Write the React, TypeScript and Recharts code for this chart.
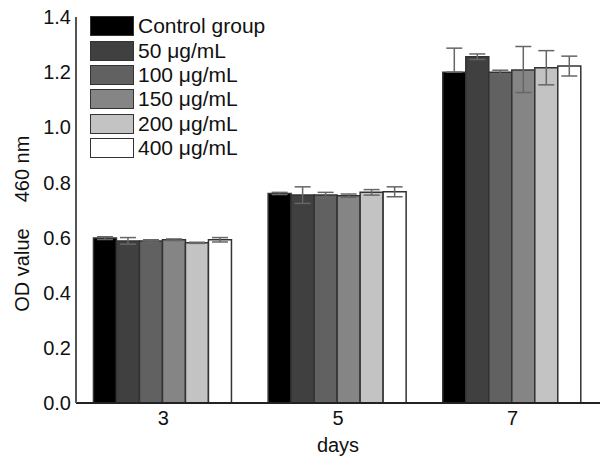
import { BarChart, Bar, XAxis, YAxis, ErrorBar } from "recharts";

const days = ["3", "5", "7"];
const groups = ["Control group", "50 μg/mL", "100 μg/mL", "150 μg/mL", "200 μg/mL", "400 μg/mL"];
const fills = ["#000000", "#404040", "#616161", "#858585", "#c3c3c3", "#ffffff"];
const yTicks = [0, 0.2, 0.4, 0.6, 0.8, 1.0, 1.2, 1.4];

// mean OD per group, one entry per day
const control = [0.598, 0.76, 1.2];
const c50 = [0.588, 0.754, 1.256];
const c100 = [0.588, 0.754, 1.2];
const c150 = [0.592, 0.752, 1.208];
const c200 = [0.581, 0.764, 1.216];
const c400 = [0.592, 0.766, 1.222];

// error bars: [down, up]
const controlErr = [[0.005, 0.005], [0.004, 0.004], [0, 0.087]];
const c50Err = [[0.012, 0.012], [0.03, 0.03], [0.01, 0.01]];
const c100Err = [[0.004, 0.004], [0.01, 0.01], [0.007, 0.007]];
const c150Err = [[0.003, 0.003], [0.006, 0.006], [0.082, 0.085]];
const c200Err = [[0.002, 0.002], [0.01, 0.01], [0.062, 0.062]];
const c400Err = [[0.008, 0.008], [0.018, 0.018], [0.036, 0.036]];

const series = [control, c50, c100, c150, c200, c400];
const errs = [controlErr, c50Err, c100Err, c150Err, c200Err, c400Err];

const data = days.map((d, i) => {
  const row: Record<string, any> = { day: d };
  series.forEach((s, k) => {
    row["v" + k] = s[i];
    row["e" + k] = errs[k][i];
  });
  return row;
});

const font = "Arial, 'Liberation Sans', sans-serif";

function Legend() {
  return (
    <div style={{ position: "absolute", left: 90, top: 14, fontFamily: font, fontSize: 21, color: "#111" }}>
      {groups.map((g, i) => (
        <div key={g} style={{ display: "flex", alignItems: "center", height: 24.4 }}>
          <div style={{ width: 44, height: 20, background: fills[i], border: "1.5px solid #333", boxSizing: "border-box", marginRight: 4 }} />
          <span style={{ lineHeight: "20px" }}>{g}</span>
        </div>
      ))}
    </div>
  );
}

function YLabel() {
  const x = 22;
  return (
    <g fontFamily={font} fontSize={20} fill="#111">
      <text x={x} y={270} transform={`rotate(-90 ${x} 270)`} textAnchor="middle" dominantBaseline="central">OD value</text>
      <text x={x} y={169} transform={`rotate(-90 ${x} 169)`} textAnchor="middle" dominantBaseline="central">460 nm</text>
    </g>
  );
}

export default function App() {
  return (
    <div style={{ position: "absolute", left: 0, top: 0, width: 600, height: 462, background: "#fff" }}>
      <BarChart
        width={600}
        height={462}
        data={data}
        margin={{ top: 17, right: 0, bottom: 0, left: 0 }}
        barCategoryGap="10%"
        barGap={0}
      >
        <XAxis
          dataKey="day"
          height={59}
          tickLine={false}
          tickSize={0}
          tickMargin={8}
          axisLine={{ stroke: "#222", strokeWidth: 2 }}
          tick={{ fill: "#111", fontSize: 20, fontFamily: font }}
          label={{ value: "days", position: "insideBottom", offset: 10, fill: "#111", fontSize: 20, fontFamily: font }}
        />
        <YAxis
          width={76}
          domain={[0, 1.4]}
          ticks={yTicks}
          interval={0}
          tickLine={false}
          tickSize={0}
          tickMargin={5}
          tickFormatter={(v: number) => v.toFixed(1)}
          axisLine={{ stroke: "#555", strokeWidth: 2 }}
          tick={{ fill: "#111", fontSize: 20, fontFamily: font }}
          label={{ content: <YLabel /> }}
        />
        {groups.map((g, k) => (
          <Bar key={g} dataKey={"v" + k} name={g} fill={fills[k]} stroke="#333" strokeWidth={1.5} isAnimationActive={false}>
            <ErrorBar dataKey={"e" + k} width={8} stroke="#666" strokeWidth={1.5} />
          </Bar>
        ))}
      </BarChart>
      <Legend />
    </div>
  );
}
